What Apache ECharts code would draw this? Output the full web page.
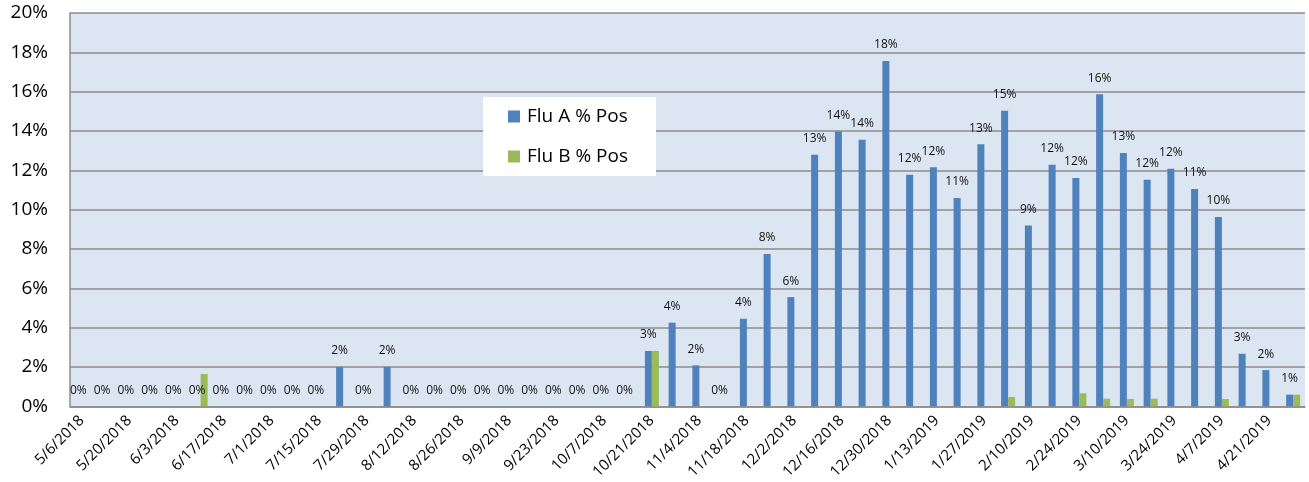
<!DOCTYPE html>
<html>
<head>
<meta charset="utf-8">
<script src="https://cdn.jsdelivr.net/npm/echarts@6/dist/echarts.min.js"></script>
<style>
  html, body { margin: 0; padding: 0; background: #fff; }
</style>
</head>
<body>
<div id="chart" style="width: 1309px; height: 482px"></div>
<script>
var weeks = [
  '5/6/2018', '5/13/2018', '5/20/2018', '5/27/2018', '6/3/2018', '6/10/2018', '6/17/2018', '6/24/2018',
  '7/1/2018', '7/8/2018', '7/15/2018', '7/22/2018', '7/29/2018', '8/5/2018', '8/12/2018', '8/19/2018',
  '8/26/2018', '9/2/2018', '9/9/2018', '9/16/2018', '9/23/2018', '9/30/2018', '10/7/2018', '10/14/2018',
  '10/21/2018', '10/28/2018', '11/4/2018', '11/11/2018', '11/18/2018', '11/25/2018', '12/2/2018', '12/9/2018',
  '12/16/2018', '12/23/2018', '12/30/2018', '1/6/2019', '1/13/2019', '1/20/2019', '1/27/2019', '2/3/2019',
  '2/10/2019', '2/17/2019', '2/24/2019', '3/3/2019', '3/10/2019', '3/17/2019', '3/24/2019', '3/31/2019',
  '4/7/2019', '4/14/2019', '4/21/2019', '4/28/2019'
]

// % positive, per week
var fluA = [
  0, 0, 0, 0, 0, 0, 0, 0, 0, 0, 0, 2.0, 0, 2.0, 0, 0,
  0, 0, 0, 0, 0, 0, 0, 0, 2.81, 4.25, 2.08, 0, 4.45, 7.75, 5.55, 12.79,
  13.97, 13.55, 17.56, 11.78, 12.15, 10.59, 13.33, 15.03, 9.19, 12.28, 11.61, 15.87, 12.88, 11.52, 12.08, 11.05,
  9.63, 2.67, 1.84, 0.59
]
var fluB = [
  0, 0, 0, 0, 0, 1.64, 0, 0, 0, 0, 0, 0, 0, 0, 0, 0,
  0, 0, 0, 0, 0, 0, 0, 0, 2.81, 0, 0, 0, 0, 0, 0, 0,
  0, 0, 0, 0, 0, 0, 0, 0.47, 0, 0, 0.66, 0.39, 0.37, 0.39, 0, 0,
  0.37, 0, 0, 0.59
]

var font = 'Open Sans'
var myChart = echarts.init(document.getElementById('chart'))
myChart.setOption({
  animation: false,
  textStyle: { fontFamily: font },
  legend: {
    orient: 'vertical',
    left: 483,
    top: 97,
    backgroundColor: '#fff',
    padding: [10, 28, 10, 25],
    itemWidth: 12,
    itemHeight: 12,
    itemGap: 21,
    icon: 'rect',
    textStyle: { color: '#000', fontFamily: font, fontSize: 19, padding: [0, 0, 0, 2] },
    data: ['Flu A % Pos', 'Flu B % Pos']
  },
  grid: {
    left: 70,
    right: 4,
    top: 13,
    bottom: 75,
    show: true,
    backgroundColor: '#DCE6F2',
    borderWidth: 0
  },
  xAxis: {
    type: 'category',
    data: weeks,
    axisLine: { lineStyle: { color: '#8C8C8C', width: 1.5 } },
    axisTick: { show: false },
    axisLabel: {
      interval: 1,
      rotate: 45,
      margin: 12,
      color: '#000',
      fontFamily: font,
      fontSize: 15
    }
  },
  yAxis: {
    type: 'value',
    min: 0,
    max: 20,
    interval: 2,
    axisLine: { show: true, lineStyle: { color: '#8C8C8C', width: 1.5 } },
    axisTick: { show: false },
    splitLine: { lineStyle: { color: '#8C8C8C', width: 1.5 } },
    axisLabel: {
      formatter: '{value}%',
      margin: 22,
      color: '#000',
      fontFamily: font,
      fontSize: 19
    }
  },
  series: [
    {
      name: 'Flu A % Pos',
      type: 'bar',
      data: fluA,
      barWidth: 7,
      barGap: '0%',
      itemStyle: { color: '#4F81BD' },
      label: {
        show: true,
        position: 'top',
        distance: 10,
        color: '#111',
        fontFamily: font,
        fontSize: 12,
        formatter: function (p) { return Math.round(p.value) + '%' }
      }
    },
    {
      name: 'Flu B % Pos',
      type: 'bar',
      data: fluB,
      barWidth: 7,
      barGap: '0%',
      itemStyle: { color: '#9BBB59' }
    }
  ]
})
</script>
</body>
</html>
